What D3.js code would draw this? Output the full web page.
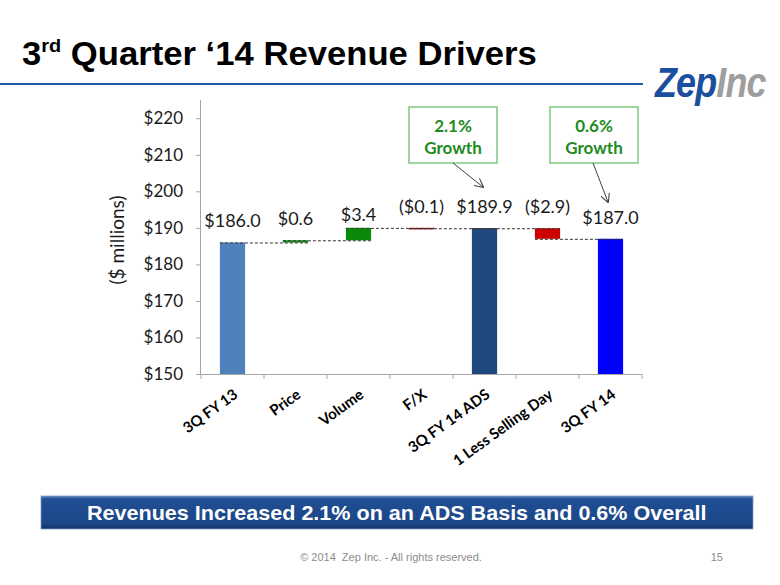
<!DOCTYPE html>
<html>
<head>
<meta charset="utf-8">
<script src="https://cdn.jsdelivr.net/npm/d3@7"></script>
<style>
  html, body { margin: 0; padding: 0; background: #fff; }
  svg { display: block; }
</style>
</head>
<body>
<svg id="chart" width="780" height="585"></svg>
<script>
// ---------- data ----------
const categories = ["3Q FY 13", "Price", "Volume", "F/X", "3Q FY 14 ADS", "1 Less Selling Day", "3Q FY 14"];
const values     = [186.0, 0.6, 3.4, -0.1, 189.9, -2.9, 187.0];
const barKinds   = ["total", "delta", "delta", "delta", "total", "delta", "total"];
const valueLabels = ["$186.0", "$0.6", "$3.4", "($0.1)", "$189.9", "($2.9)", "$187.0"];
const yTicks     = [150, 160, 170, 180, 190, 200, 210, 220];
const growthNotes = [["2.1%", "Growth"], ["0.6%", "Growth"]];

// ---------- styles ----------
const barColors = ["#4F81BD", "#0A8A0A", "#0A8A0A", "#CC0000", "#1F497D", "#CC0000", "#0000FF"];
const chartFont = "Lato, 'Open Sans', sans-serif";
const labelNudge = [0, 0, 8, 0, 0, 0, 0];

const svg = d3.select("#chart");
const defs = svg.append("defs");

// ---------- waterfall computation ----------
let running = 0;
const bars = categories.map((c, i) => {
  let lo, hi, end;
  if (barKinds[i] === "total") {
    running = values[i];
    lo = null; hi = values[i]; end = values[i];
  } else {
    const start = running;
    running = running + values[i];
    lo = Math.min(start, running); hi = Math.max(start, running); end = running;
  }
  return { cat: c, kind: barKinds[i], lo, hi, end, label: valueLabels[i], i };
});

// ---------- scales ----------
const x = d3.scaleBand().domain(categories).range([201, 642]).paddingInner(0.6).paddingOuter(0.3);
const y = d3.scaleLinear().domain([150, 225]).range([374, 100]);

// ---------- title ----------
const titleG = svg.append("g");
const title = titleG.append("text")
  .attr("x", 0).attr("y", 0)
  .style("font-family", "'Liberation Sans', Arial, sans-serif")
  .style("font-weight", "bold").style("font-size", "33px").attr("fill", "#000");
title.append("tspan").text("3");
title.append("tspan").text("rd").style("font-size", "19px").attr("dy", -13);
title.append("tspan").text(" Quarter \u201814 Revenue Drivers").attr("dy", 13);
{
  const w = title.node().getBBox().width;
  titleG.attr("transform", `translate(22,65) scale(${515 / w},1)`);
}

// header rule
svg.append("line").attr("x1", 0).attr("x2", 643).attr("y1", 84).attr("y2", 84)
  .attr("stroke", "#2159A6").attr("stroke-width", 2);

// logo
const logoG = svg.append("g");
const logo = logoG.append("text").attr("x", 0).attr("y", 0)
  .style("font-family", "'Liberation Sans Narrow', 'Liberation Sans', Arial, sans-serif")
  .style("font-weight", "bold").style("font-style", "italic").style("font-size", "42px")
  .style("letter-spacing", "-1px");
logo.append("tspan").text("Zep").attr("fill", "#1A4E9F");
logo.append("tspan").text("Inc").attr("fill", "#9E9E9E");
{
  const w = logo.node().getBBox().width;
  logoG.attr("transform", `translate(655,97) scale(${112 / w},1)`);
}

// ---------- axes ----------
const yAxis = d3.axisLeft(y).tickValues(yTicks).tickFormat(d => "$" + d).tickSize(5).tickPadding(13);
const gy = svg.append("g").attr("transform", "translate(201,0)").call(yAxis);
gy.select(".domain").attr("stroke", "#A6A6A6").attr("d", `M-0.5,${y(225)}V${y(150)}`);
gy.selectAll(".tick line").attr("stroke", "#A6A6A6");
gy.selectAll(".tick text").style("font-family", chartFont).style("font-size", "17px").attr("fill", "#1a1a1a");

const xAxis = d3.axisBottom(x).tickSize(0).tickPadding(0);
const gx = svg.append("g").attr("transform", `translate(0,${y(150)})`).call(xAxis);
gx.select(".domain").attr("stroke", "#A6A6A6").attr("d", `M${x.range()[0]},0.5H${x.range()[1]}`);
gx.selectAll(".tick text")
  .style("font-family", chartFont).style("font-size", "15px").style("font-weight", "bold")
  .attr("fill", "#000")
  .attr("text-anchor", "end")
  .attr("dy", "0.72em")
  .attr("transform", "translate(0,14) rotate(-36)");
// category boundary ticks
const boundaries = d3.range(categories.length + 1).map(k => x.range()[0] + k * x.step());
gx.selectAll("line.bound").data(boundaries).join("line").attr("class", "bound")
  .attr("x1", d => d).attr("x2", d => d).attr("y1", 0).attr("y2", 5).attr("stroke", "#A6A6A6");

// y axis title
svg.append("text")
  .attr("transform", `translate(124,240) rotate(-90)`)
  .attr("text-anchor", "middle")
  .style("font-family", chartFont).style("font-size", "19px").attr("fill", "#1a1a1a")
  .text("($ millions)");

// ---------- bars ----------
svg.append("g").selectAll("rect").data(bars).join("rect")
  .attr("x", d => x(d.cat))
  .attr("width", x.bandwidth())
  .attr("y", d => y(d.hi))
  .attr("height", d => {
    const lo = d.kind === "total" ? 150 : d.lo;
    return Math.max(1.5, y(lo) - y(d.hi));
  })
  .attr("fill", (d, i) => barColors[i]);

// connectors
const conn = [];
for (let i = 0; i < bars.length - 1; i++) {
  conn.push({ x1: x(bars[i].cat), x2: x(bars[i + 1].cat) + x.bandwidth(), v: bars[i].end });
}
svg.append("g").selectAll("line").data(conn).join("line")
  .attr("x1", d => d.x1).attr("x2", d => d.x2)
  .attr("y1", d => y(d.v) + 0.5).attr("y2", d => y(d.v) + 0.5)
  .attr("stroke", "#333").attr("stroke-width", 1).attr("stroke-dasharray", "3,2");

// value labels
svg.append("g").selectAll("text").data(bars).join("text")
  .attr("x", d => x(d.cat) + x.bandwidth() / 2)
  .attr("y", d => y(d.hi) - 15 + labelNudge[d.i])
  .attr("text-anchor", "middle")
  .style("font-family", chartFont).style("font-size", "18px").attr("fill", "#1a1a1a")
  .text(d => d.label);

// ---------- growth callouts ----------
defs.append("marker")
  .attr("id", "arr").attr("viewBox", "0 0 10 10").attr("refX", 9).attr("refY", 5)
  .attr("markerWidth", 9).attr("markerHeight", 9).attr("markerUnits", "userSpaceOnUse")
  .attr("orient", "auto")
  .append("path").attr("d", "M0,0L10,5L0,10").attr("fill", "none").attr("stroke", "#404040").attr("stroke-width", 1.2);

const boxW = 88, boxH = 56, boxTop = 107;
const boxCenters = [453, 594];
const arrowEnds = [[483, 187], [608, 202]];
growthNotes.forEach((lines, k) => {
  const cx = boxCenters[k];
  const g = svg.append("g");
  g.append("rect").attr("x", cx - boxW / 2).attr("y", boxTop).attr("width", boxW).attr("height", boxH)
    .attr("fill", "#fff").attr("stroke", "#6CC06C").attr("stroke-width", 1.3);
  lines.forEach((t, j) => {
    g.append("text").attr("x", cx).attr("y", boxTop + 25 + j * 22)
      .attr("text-anchor", "middle")
      .style("font-family", chartFont).style("font-weight", "bold").style("font-size", "17px")
      .attr("fill", "#1E8B1E").text(t);
  });
  const bx = cx + (k === 0 ? 0 : -1);
  svg.append("line").attr("x1", bx).attr("y1", boxTop + boxH)
    .attr("x2", arrowEnds[k][0]).attr("y2", arrowEnds[k][1])
    .attr("stroke", "#404040").attr("stroke-width", 1).attr("marker-end", "url(#arr)");
});

// ---------- bottom banner ----------
const grad = defs.append("linearGradient").attr("id", "bannerGrad").attr("x1", 0).attr("x2", 0).attr("y1", 0).attr("y2", 1);
grad.append("stop").attr("offset", "0%").attr("stop-color", "#5A80BA");
grad.append("stop").attr("offset", "10%").attr("stop-color", "#204E93");
grad.append("stop").attr("offset", "85%").attr("stop-color", "#1B4788");
grad.append("stop").attr("offset", "100%").attr("stop-color", "#102F63");
svg.append("rect").attr("x", 41).attr("y", 496).attr("width", 712).attr("height", 33)
  .attr("fill", "url(#bannerGrad)").attr("stroke", "#7F9CC8").attr("stroke-width", 0.8);
const banG = svg.append("g");
const ban = banG.append("text").attr("x", 0).attr("y", 0)
  .attr("text-anchor", "start")
  .style("font-family", "'Liberation Sans', Arial, sans-serif")
  .style("font-weight", "bold").style("font-size", "20px").attr("fill", "#fff")
  .text("Revenues Increased 2.1% on an ADS Basis and 0.6% Overall");
{
  const w = ban.node().getBBox().width;
  banG.attr("transform", `translate(87,520) scale(${620 / w},1)`);
}

// ---------- footer ----------
svg.append("text").attr("x", 391).attr("y", 561).attr("text-anchor", "middle")
  .style("font-family", "'Liberation Sans', Arial, sans-serif").style("font-size", "11px")
  .style("white-space", "pre").attr("fill", "#8C8C8C")
  .text("\u00A9 2014  Zep Inc. - All rights reserved.");
svg.append("text").attr("x", 723).attr("y", 561).attr("text-anchor", "end")
  .style("font-family", "'Liberation Sans', Arial, sans-serif").style("font-size", "11px")
  .attr("fill", "#8C8C8C").text("15");
</script>
</body>
</html>
